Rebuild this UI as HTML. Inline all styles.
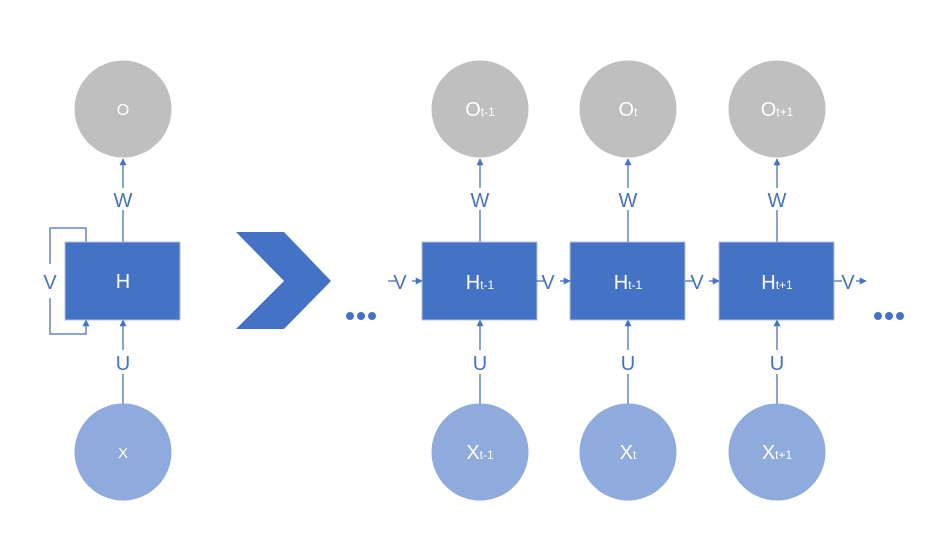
<!DOCTYPE html>
<html><head><meta charset="utf-8"><style>
html,body{margin:0;padding:0;background:#fff;}
svg{display:block;font-family:"Liberation Sans","DejaVu Sans",sans-serif;}
</style></head><body>
<svg width="938" height="554" viewBox="0 0 938 554" xmlns="http://www.w3.org/2000/svg">
<defs>
<marker id="ar" viewBox="0 0 10 10" refX="9" refY="5" markerWidth="7" markerHeight="7" markerUnits="userSpaceOnUse" orient="auto"><path d="M0,0L10,5L0,10z" fill="#4472c4"/></marker>
</defs>
<g stroke="#4472c4" stroke-width="1.3" fill="none">
  <line x1="123" y1="242" x2="123" y2="159" marker-end="url(#ar)"/>
  <line x1="123" y1="404" x2="123" y2="320" marker-end="url(#ar)"/>
  <polyline points="86,242 86,228 50,228 50,264"/>
  <polyline points="50,298 50,334 86,334 86,320" marker-end="url(#ar)"/>
</g>
<g>
  <circle cx="123" cy="109" r="48.5" fill="#bfbfbf"/>
  <text x="123" y="115" fill="#fff" font-size="16" text-anchor="middle">O</text>
  <rect x="65" y="242" width="115" height="78" fill="#4472c4" stroke="#b4c0d8" stroke-width="1"/>
  <text x="123" y="288" fill="#fff" font-size="20" text-anchor="middle">H</text>
  <circle cx="123" cy="452" r="48.5" fill="#8faadc"/>
  <text x="123" y="458" fill="#fff" font-size="15" text-anchor="middle">X</text>
  <rect x="110" y="188" width="26" height="22" fill="#fff"/>
  <text x="123" y="207" fill="#4472c4" font-size="20" text-anchor="middle">W</text>
  <rect x="110" y="350" width="26" height="24" fill="#fff"/>
  <text x="123" y="370" fill="#4472c4" font-size="20" text-anchor="middle">U</text>
  <text x="50" y="289" fill="#4472c4" font-size="20" text-anchor="middle">V</text>
</g>
<polygon points="236,232 284,232 331,281 284,329 236,329 284,281" fill="#4472c4"/>
<g fill="#4472c4">
  <circle cx="350" cy="316" r="4"/><circle cx="361" cy="316" r="4"/><circle cx="372" cy="316" r="4"/>
</g>
<g fill="#4472c4">
  <circle cx="878" cy="316" r="4"/><circle cx="889" cy="316" r="4"/><circle cx="900" cy="316" r="4"/>
</g>
<g id="cells"></g>
<script>
const cellX=[480,628,777];
const subs=["t-1","t","t+1"];
const hSubs=["t-1","t-1","t+1"];
const g=document.getElementById('cells');
const NS="http://www.w3.org/2000/svg";
function mk(tag,attrs,parent){const e=document.createElementNS(NS,tag);for(const k in attrs)e.setAttribute(k,attrs[k]);(parent||g).appendChild(e);return e;}
function lbl(x,y,main,sub,size,fill){const t=document.createElementNS(NS,'text');t.setAttribute('x',x);t.setAttribute('y',y);t.setAttribute('fill',fill);t.setAttribute('font-size',size);t.setAttribute('text-anchor','middle');t.appendChild(document.createTextNode(main));if(sub){const s=document.createElementNS(NS,'tspan');s.setAttribute('font-size',Math.round(size*0.6));s.textContent=sub;t.appendChild(s);}return t;}
cellX.forEach((cx,i)=>{
  const c=mk('g',{});
  
  
  mk('line',{x1:cx,y1:242,x2:cx,y2:159,stroke:'#4472c4','stroke-width':1.3,'marker-end':'url(#ar)'},c);
  mk('line',{x1:cx,y1:404,x2:cx,y2:320,stroke:'#4472c4','stroke-width':1.3,'marker-end':'url(#ar)'},c);
  const o=mk('circle',{cx:cx,cy:109,r:48.5,fill:'#bfbfbf'},c);
  
  
  c.appendChild(lbl(cx,116,'O',subs[i],20,'#fff'));
  const r=mk('rect',{x:cx-58,y:242,width:115,height:78,fill:'#4472c4',stroke:'#b4c0d8','stroke-width':1},c);
  
  
  c.appendChild(lbl(cx,289,'H',hSubs[i],20,'#fff'));
  const x=mk('circle',{cx:cx,cy:452,r:48.5,fill:'#8faadc'},c);
  
  
  c.appendChild(lbl(cx,459,'X',subs[i],20,'#fff'));
  mk('rect',{x:cx-13,y:188,width:26,height:22,fill:'#fff'},c);
  c.appendChild(lbl(cx,207,'W',null,20,'#4472c4'));
  mk('rect',{x:cx-13,y:350,width:26,height:24,fill:'#fff'},c);
  c.appendChild(lbl(cx,370,'U',null,20,'#4472c4'));
  const sx=cx-58-34;
  mk('line',{x1:sx,y1:281,x2:sx+8,y2:281,stroke:'#4472c4','stroke-width':1.3},c);
  mk('line',{x1:cx-68,y1:281,x2:cx-58,y2:281,stroke:'#4472c4','stroke-width':1.3,'marker-end':'url(#ar)'},c);
  c.appendChild(lbl(cx-80,289,'V',null,20,'#4472c4'));
});
const lx=cellX[cellX.length-1]+57;
mk('line',{x1:lx,y1:281,x2:lx+8,y2:281,stroke:'#4472c4','stroke-width':1.3});
mk('line',{x1:lx+22,y1:281,x2:lx+32,y2:281,stroke:'#4472c4','stroke-width':1.3,'marker-end':'url(#ar)'});
g.appendChild(lbl(lx+14,289,'V',null,20,'#4472c4'));
</script>
</svg>
</body></html>
